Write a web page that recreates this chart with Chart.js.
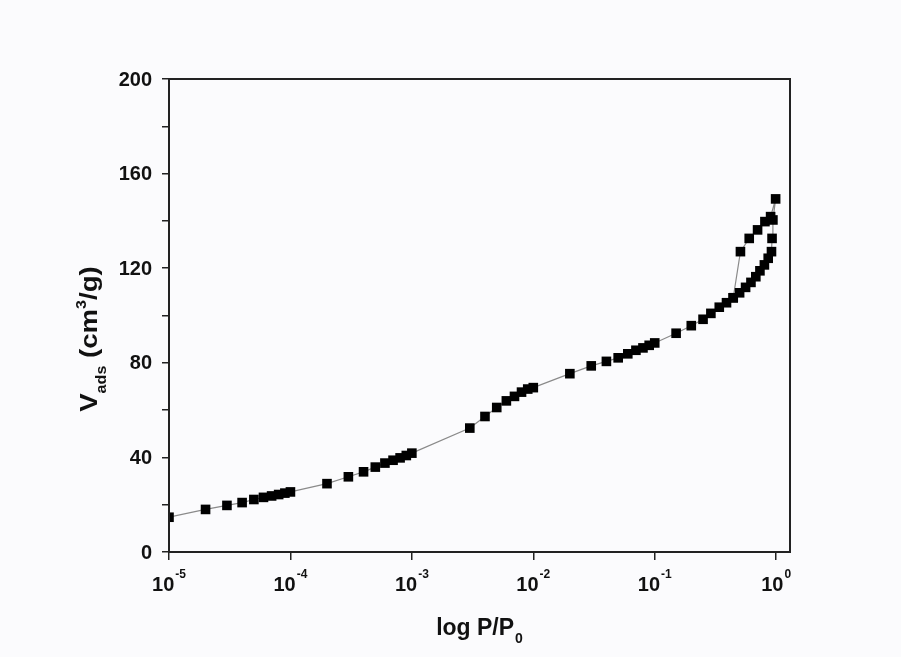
<!DOCTYPE html>
<html>
<head>
<meta charset="utf-8">
<script src="https://cdn.jsdelivr.net/npm/chart.js@4.4.1/dist/chart.umd.min.js"></script>
<style>
  html, body { margin: 0; padding: 0; background: #fbfbfd; }
  #wrap { width: 901px; height: 657px; }
</style>
</head>
<body>
<div id="wrap"><canvas id="c" width="901" height="657"></canvas></div>
<script>
// isotherm: adsorption branch, then desorption back down
const pressure = [
  1e-5, 2e-5, 3e-5, 4e-5, 5e-5, 6e-5, 7e-5, 8e-5, 9e-5, 1e-4,
  2e-4, 3e-4, 4e-4, 5e-4, 6e-4, 7e-4, 8e-4, 9e-4, 1e-3,
  3e-3, 4e-3, 5e-3, 6e-3, 7e-3, 8e-3, 9e-3, 1e-2,
  2e-2, 3e-2, 4e-2, 5e-2, 6e-2, 7e-2, 8e-2, 9e-2, 0.1,
  0.15, 0.2, 0.25, 0.29, 0.34, 0.39, 0.443, 0.5, 0.56, 0.62,
  0.68, 0.735, 0.8, 0.86, 0.915, 0.925, 0.94, 0.99,
  // desorption
  0.9, 0.808, 0.703, 0.6, 0.508, 0.443
];
const volume = [
  14.7, 18.0, 19.7, 20.9, 22.2, 23.1, 23.7, 24.3, 24.9, 25.4,
  28.9, 31.8, 33.9, 35.9, 37.6, 38.8, 39.8, 40.8, 41.8,
  52.4, 57.3, 61.1, 63.9, 65.8, 67.6, 68.9, 69.5,
  75.4, 78.7, 80.6, 82.1, 83.8, 85.3, 86.3, 87.4, 88.4,
  92.5, 95.7, 98.4, 100.9, 103.5, 105.4, 107.5, 109.6, 111.9, 114.0,
  116.4, 118.9, 121.4, 124.2, 127.0, 132.6, 140.4, 149.3,
  141.8, 139.7, 136.2, 132.6, 127.0, 107.5
];
const xDecades = [-5, -4, -3, -2, -1, 0];
const yLabels = [0, 40, 80, 120, 160, 200];

const FONT = '"Liberation Sans", Arial, sans-serif';

const decor = {
  id: 'decor',
  afterDraw(chart) {
    const { ctx, chartArea: a, scales: { x, y } } = chart;
    ctx.save();
    ctx.strokeStyle = '#222';
    ctx.lineWidth = 2;
    ctx.strokeRect(a.left, a.top, a.right - a.left, a.bottom - a.top);

    ctx.fillStyle = '#111';
    // y tick labels
    ctx.font = 'bold 20px ' + FONT;
    ctx.textAlign = 'right';
    ctx.textBaseline = 'middle';
    yLabels.forEach(v => ctx.fillText(String(v), a.left - 17, y.getPixelForValue(v) + 1));

    // x tick labels, 10 with superscript exponent
    ctx.textAlign = 'left';
    ctx.textBaseline = 'alphabetic';
    xDecades.forEach(e => {
      const px = x.getPixelForValue(Math.pow(10, e));
      ctx.font = 'bold 20px ' + FONT;
      const wb = ctx.measureText('10').width;
      ctx.font = 'bold 12px ' + FONT;
      const sup = String(e);
      const ws = ctx.measureText(sup).width;
      const x0 = px - (wb + ws + 1) / 2;
      ctx.font = 'bold 20px ' + FONT;
      ctx.fillText('10', x0, a.bottom + 39);
      ctx.font = 'bold 12px ' + FONT;
      ctx.fillText(sup, x0 + wb + 1, a.bottom + 26);
    });

    // x title: log P/P0
    ctx.font = 'bold 23px ' + FONT;
    const t1 = 'log P/P';
    const w1 = ctx.measureText(t1).width;
    ctx.font = 'bold 14px ' + FONT;
    const w2 = ctx.measureText('0').width;
    const cx = (a.left + a.right) / 2;
    let sx = cx - (w1 + w2 + 1) / 2;
    ctx.font = 'bold 23px ' + FONT;
    ctx.fillText(t1, sx, a.bottom + 83);
    ctx.font = 'bold 14px ' + FONT;
    ctx.fillText('0', sx + w1 + 1, a.bottom + 91);

    // y title: V_ads (cm^3/g), rotated
    const parts = [
      { t: 'V', f: 'bold 24px ', dy: 0 },
      { t: 'ads', f: 'bold 14px ', dy: 9 },
      { t: ' (cm', f: 'bold 24px ', dy: 0 },
      { t: '3', f: 'bold 14px ', dy: -11 },
      { t: '/g)', f: 'bold 24px ', dy: 0 }
    ];
    let total = 0;
    parts.forEach(p => { ctx.font = p.f + FONT; p.w = ctx.measureText(p.t).width; total += p.w; });
    ctx.translate(97, 339);
    ctx.rotate(-Math.PI / 2);
    ctx.scale(1.15, 1);
    let px = -total / 2;
    parts.forEach(p => {
      ctx.font = p.f + FONT;
      ctx.fillText(p.t, px, p.dy);
      px += p.w;
    });
    ctx.restore();
  }
};

const points = pressure.map((p, i) => ({ x: p, y: volume[i] }));

new Chart(document.getElementById('c'), {
  type: 'scatter',
  data: {
    datasets: [{
      data: points,
      showLine: true,
      borderColor: '#8a8a8a',
      borderWidth: 1.2,
      pointStyle: 'rect',
      pointRadius: 6.8,
      pointBackgroundColor: '#000',
      pointBorderColor: '#000',
      pointBorderWidth: 0,
      tension: 0
    }]
  },
  options: {
    responsive: false,
    animation: false,
    layout: { padding: { left: 162, right: 111, top: 79, bottom: 97 } },
    plugins: { legend: { display: false }, tooltip: { enabled: false } },
    scales: {
      x: {
        type: 'logarithmic',
        min: 1e-5,
        max: 1.3,
        afterBuildTicks: s => { s.ticks = xDecades.map(e => ({ value: Math.pow(10, e) })); },
        ticks: { display: false, padding: 0 },
        grid: { drawOnChartArea: false, drawTicks: true, tickLength: 8, color: '#222', lineWidth: 1.5 },
        border: { display: true, color: '#222', width: 2 }
      },
      y: {
        min: 0,
        max: 200,
        ticks: { display: false, stepSize: 20, padding: 0 },
        grid: { drawOnChartArea: false, drawTicks: true, tickLength: 7, color: '#222', lineWidth: 1.5 },
        border: { display: true, color: '#222', width: 2 }
      }
    }
  },
  plugins: [decor]
});
</script>
</body>
</html>
